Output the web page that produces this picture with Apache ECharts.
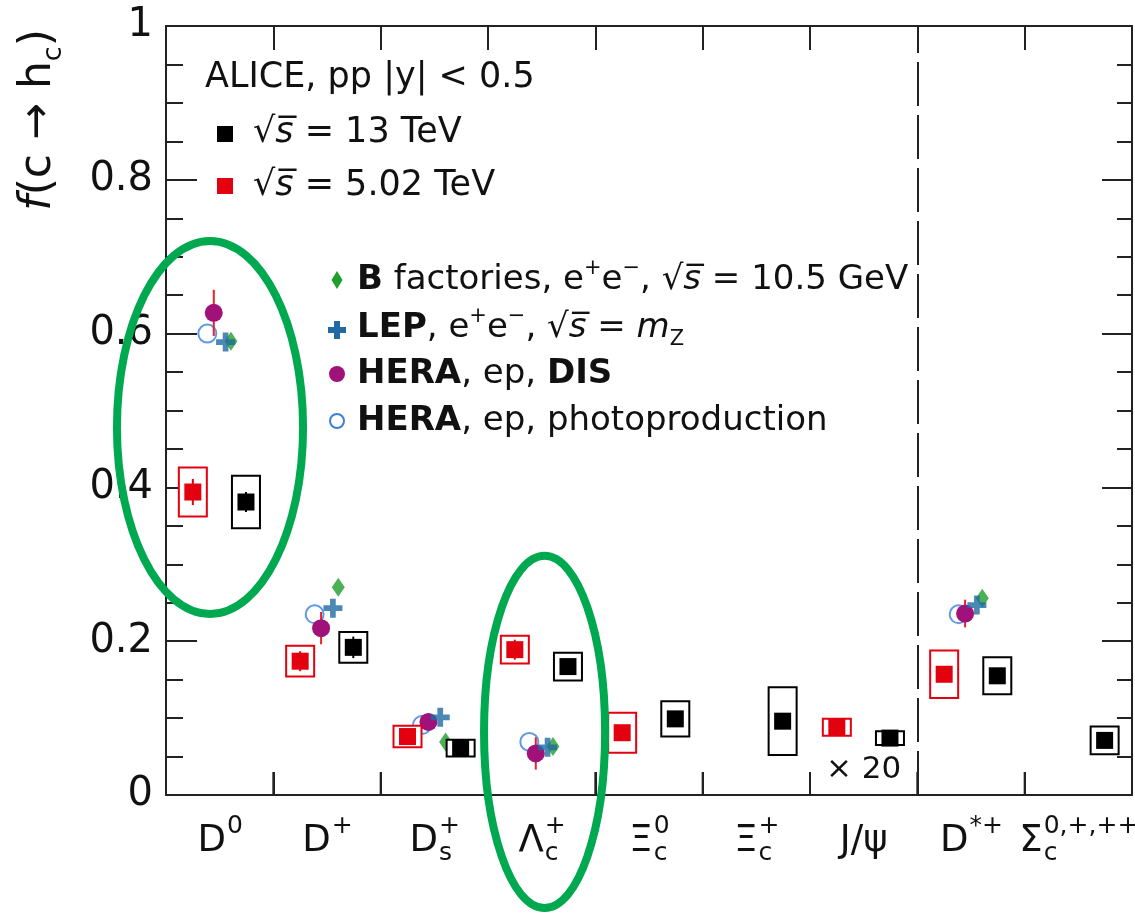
<!DOCTYPE html>
<html><head><meta charset="utf-8">
<script src="https://cdn.jsdelivr.net/npm/echarts@6/dist/echarts.min.js"></script>
<style>html,body{margin:0;padding:0;background:#fff}#c{width:1135px;height:913px}</style>
</head><body><div id="c"></div>
<script>
// ---------------- data ----------------
const categories = ['D0', 'D+', 'Ds+', 'Lambda_c+', 'Xi_c0', 'Xi_c+', 'J/psi', 'D*+', 'Sigma_c'];
// tick labels: main symbol, subscript, superscript
const tickMain = ['D', 'D', 'D', 'Λ', 'Ξ', 'Ξ', 'J/ψ', 'D', 'Σ'];
const tickSub  = ['', '', 's', 'c', 'c', 'c', '', '', 'c'];
const tickSup  = ['0', '+', '+', '+', '0', '+', '', '*+', '0,+,++'];

const pp13     = [0.381, 0.192, 0.061, 0.167, 0.099, 0.096, 0.074, 0.155, 0.071];
const pp13Stat = [0.013, 0.014, 0.004, 0.006, 0.008, 0.005, 0.003, 0.004, 0.006];
const pp13Syst = [0.034, 0.020, 0.011, 0.018, 0.023, 0.044, 0.009, 0.024, 0.018];

const pp5     = [0.394, 0.174, 0.076, 0.189, 0.081, null, 0.088, 0.157, null];
const pp5Stat = [0.017, 0.013, 0.004, 0.013, 0.007, null, 0.002, 0.004, null];
const pp5Syst = [0.032, 0.020, 0.014, 0.018, 0.026, null, 0.011, 0.031, null];

const bFactories = [0.590, 0.270, 0.069, 0.063, null, null, null, 0.256, null];
const lep        = [0.589, 0.243, 0.101, 0.062, null, null, null, 0.247, null];
const heraDis    = [0.627, 0.217, 0.095, 0.054, null, null, null, 0.236, null];
const heraDisErr = [0.030, 0.021, 0.008, 0.021, null, null, null, 0.018, null];
const heraPhoto  = [0.600, 0.235, 0.091, 0.069, null, null, null, 0.235, null];

// ---------------- layout / style ----------------
const NCAT = categories.length;
const OFF = { pp5: -0.25, pp13: 0.245, photo: -0.115, dis: -0.055, lep: 0.055, bfac: 0.105 };
const FONT = 'DejaVu Sans';
const BOX_HW = 14, SQ = 17;
const RED = '#e3000f', BLACK = '#000000';
const C_BFAC = '#1e9e2a', C_LEP = '#1f6aa3', C_DIS = '#a0117a', C_PHOTO = '#3a7fdc', C_ERR = '#e8202a';
const GREEN = '#00a850';
// annotation ovals in data units (x in category units, y in value units)
const OVALS = [
  { x: 0.41, y: 0.478, rx: 0.867, ry: 0.2425 },
  { x: 3.527, y: 0.082, rx: 0.564, ry: 0.229 }
];
const SCALE_NOTE = { x: 6.5, y: 0.033, text: '× 20' };

function aliceData(v, st, sy, off) {
  const out = [];
  v.forEach((val, i) => { if (val != null) out.push([i + 0.5 + off, val, st[i], sy[i]]); });
  return out;
}
function pointData(v, off, err) {
  const out = [];
  v.forEach((val, i) => { if (val != null) out.push(err ? [i + 0.5 + off, val, err[i]] : [i + 0.5 + off, val]); });
  return out;
}
function aliceRender(color) {
  return function (params, api) {
    const x = api.value(0), y = api.value(1), st = api.value(2), sy = api.value(3);
    const c = api.coord([x, y]);
    const sHi = api.coord([x, y + sy])[1], sLo = api.coord([x, y - sy])[1];
    const eHi = api.coord([x, y + st])[1], eLo = api.coord([x, y - st])[1];
    return { type: 'group', children: [
      { type: 'rect', shape: { x: c[0] - BOX_HW, y: sHi, width: 2 * BOX_HW, height: sLo - sHi }, style: { fill: '#fff', stroke: color, lineWidth: 2 } },
      { type: 'line', shape: { x1: c[0], y1: eHi, x2: c[0], y2: eLo }, style: { stroke: color, lineWidth: 2 } },
      { type: 'rect', shape: { x: c[0] - SQ / 2, y: c[1] - SQ / 2, width: SQ, height: SQ }, style: { fill: color } }
    ]};
  };
}
function disRender(params, api) {
  const x = api.value(0), y = api.value(1), e = api.value(2);
  const c = api.coord([x, y]);
  const hi = api.coord([x, y + e])[1], lo = api.coord([x, y - e])[1];
  return { type: 'group', children: [
    { type: 'line', shape: { x1: c[0], y1: hi, x2: c[0], y2: lo }, style: { stroke: C_ERR, lineWidth: 2 } },
    { type: 'circle', shape: { cx: c[0], cy: c[1], r: 9 }, style: { fill: C_DIS } }
  ]};
}
// inward tick marks along the bottom frame at the category boundaries
const boundaryTicks = [];
for (let b = 0; b <= NCAT; b++) boundaryTicks.push([b, 0]);
function bottomTickRender(params, api) {
  const p = api.coord([api.value(0), api.value(1)]);
  return { type: 'line', shape: { x1: p[0], y1: p[1], x2: p[0], y2: p[1] - 23 }, style: { stroke: '#222', lineWidth: 2 } };
}

const PLUS = 'path://M7,0H13V7H20V13H13V20H7V13H0V7H7Z';
const axisLineStyle = { color: '#222', width: 2 };

const option = {
  animation: false,
  backgroundColor: '#fff',
  grid: { left: 166, right: 3, top: 26, bottom: 118 },
  xAxis: [
    {
      // drawn along the bottom frame (placed at y = 0 of the value axis)
      type: 'value', position: 'top', min: 0, max: NCAT, interval: 1,
      axisLine: { show: true, onZero: true, onZeroAxisIndex: 0, lineStyle: axisLineStyle },
      axisTick: { show: true, inside: false, length: 23, lineStyle: axisLineStyle },
      splitLine: { show: false },
      axisLabel: { show: false }
    },
    {
      type: 'value', position: 'top', min: 0, max: NCAT, interval: 1,
      axisLine: { show: true, onZero: false, lineStyle: axisLineStyle },
      axisTick: { show: true, inside: true, length: 24, lineStyle: axisLineStyle },
      axisLabel: { show: false }, splitLine: { show: false }
    }
  ],
  yAxis: [
    {
      type: 'value', position: 'left', min: 0, max: 1, interval: 0.2,
      axisLine: { show: true, onZero: false, lineStyle: axisLineStyle },
      axisTick: { show: true, inside: true, length: 31, lineStyle: axisLineStyle },
      minorTick: { show: true, splitNumber: 4, length: 17, lineStyle: axisLineStyle },
      splitLine: { show: false }, minorSplitLine: { show: false },
      axisLabel: {
        margin: 13, color: '#111', fontFamily: FONT, fontSize: 40,
        formatter: v => String(+v.toFixed(1))
      }
    },
    {
      type: 'value', position: 'right', min: 0, max: 1, interval: 0.2,
      axisLine: { show: true, onZero: false, lineStyle: axisLineStyle },
      axisTick: { show: true, inside: true, length: 30, lineStyle: axisLineStyle },
      minorTick: { show: true, splitNumber: 4, length: 15, lineStyle: axisLineStyle },
      splitLine: { show: false }, minorSplitLine: { show: false },
      axisLabel: { show: false }
    }
  ],
  series: [
    {
      name: 'B factories', type: 'scatter', xAxisIndex: 0, yAxisIndex: 0,
      data: pointData(bFactories, OFF.bfac), symbol: 'diamond', symbolSize: [13, 19],
      itemStyle: { color: C_BFAC }, z: 3,
      markLine: {
        silent: true, symbol: ['none', 'none'], label: { show: false },
        lineStyle: { type: [44, 9], color: '#222', width: 2 },
        data: [{ xAxis: 7 }]
      }
    },
    {
      name: 'HERA photoproduction', type: 'scatter', xAxisIndex: 0, yAxisIndex: 0,
      data: pointData(heraPhoto, OFF.photo), symbol: 'emptyCircle', symbolSize: 18,
      itemStyle: { color: C_PHOTO, borderWidth: 2 }, z: 4
    },
    {
      name: 'HERA DIS', type: 'custom', xAxisIndex: 0, yAxisIndex: 0,
      data: pointData(heraDis, OFF.dis, heraDisErr), renderItem: disRender, z: 5
    },
    {
      name: 'LEP', type: 'scatter', xAxisIndex: 0, yAxisIndex: 0,
      data: pointData(lep, OFF.lep), symbol: PLUS, symbolSize: 19,
      itemStyle: { color: C_LEP }, z: 6
    },
    {
      name: '5.02 TeV', type: 'custom', xAxisIndex: 0, yAxisIndex: 0,
      data: aliceData(pp5, pp5Stat, pp5Syst, OFF.pp5), renderItem: aliceRender(RED), z: 7
    },
    {
      name: '13 TeV', type: 'custom', xAxisIndex: 0, yAxisIndex: 0,
      data: aliceData(pp13, pp13Stat, pp13Syst, OFF.pp13), renderItem: aliceRender(BLACK), z: 7
    },
    {
      name: 'frame ticks', type: 'custom', xAxisIndex: 0, yAxisIndex: 0, silent: true, clip: false,
      data: boundaryTicks, renderItem: bottomTickRender, z: 2
    }
  ]
};

const chart = echarts.init(document.getElementById('c'), null, { renderer: 'canvas' });
chart.setOption(option);

function toPx(x, y) { return chart.convertToPixel({ seriesIndex: 3 }, [x, y]); }

const legRich = {
  t: { fontFamily: FONT, fontSize: 34, lineHeight: 44, align: 'left', fill: '#111' },
  i: { fontFamily: FONT, fontSize: 34, lineHeight: 44, align: 'left', fontStyle: 'italic', fill: '#111' },
  b: { fontFamily: FONT, fontSize: 34, lineHeight: 44, align: 'left', fontWeight: 'bold', fill: '#111' },
  sup: { fontFamily: FONT, fontSize: 21, lineHeight: 22, verticalAlign: 'top', align: 'left', fill: '#111' },
  sub: { fontFamily: FONT, fontSize: 21, lineHeight: 20, verticalAlign: 'bottom', align: 'left', fill: '#111' }
};
function legText(x, y, text, size) {
  const rich = JSON.parse(JSON.stringify(legRich));
  if (size) { ['t', 'i', 'b'].forEach(k => rich[k].fontSize = size); }
  return { type: 'text', x: x, y: y, z: 100, style: { text: text, rich: rich, align: 'left', verticalAlign: 'middle' } };
}

const g = [];
// category labels (main symbol + stacked sub/superscripts), placed at category centres
const measureCtx = document.createElement('canvas').getContext('2d');
function textW(t, size) { measureCtx.font = size + 'px "' + FONT + '"'; return measureCtx.measureText(t).width; }
const MAIN_FS = 37, SCR_FS = 25;
categories.forEach((c, i) => {
  const p = toPx(i + 0.5, 0);
  const y0 = p[1] + 46;
  const mw = textW(tickMain[i], MAIN_FS);
  const sw = Math.max(tickSub[i] ? textW(tickSub[i], SCR_FS) : 0, tickSup[i] ? textW(tickSup[i], SCR_FS) : 0);
  const left = p[0] - (mw + sw) / 2;
  g.push({ type: 'text', x: left, y: y0, z: 100, style: { text: tickMain[i], fontFamily: FONT, fontSize: MAIN_FS, fill: '#111', align: 'left', verticalAlign: 'middle' } });
  if (tickSup[i]) g.push({ type: 'text', x: left + mw + 1, y: y0 - 15, z: 100, style: { text: tickSup[i], fontFamily: FONT, fontSize: SCR_FS, fill: '#111', align: 'left', verticalAlign: 'middle' } });
  if (tickSub[i]) g.push({ type: 'text', x: left + mw + 1, y: y0 + 12, z: 100, style: { text: tickSub[i], fontFamily: FONT, fontSize: SCR_FS, fill: '#111', align: 'left', verticalAlign: 'middle' } });
});
// title & ALICE legend
g.push(legText(205, 78, '{t|ALICE, pp |y| < 0.5}', 35));
g.push({ type: 'rect', z: 100, shape: { x: 217, y: 126, width: 16, height: 16 }, style: { fill: BLACK } });
g.push(legText(253, 133, '{t|√}{i|s\u0305}{t| = 13 TeV}', 35));
g.push({ type: 'rect', z: 100, shape: { x: 217, y: 178, width: 16, height: 16 }, style: { fill: RED } });
g.push(legText(253, 186, '{t|√}{i|s\u0305}{t| = 5.02 TeV}', 35));
// comparison legend
g.push({ type: 'polygon', z: 100, shape: { points: [[337, 271], [342.5, 280], [337, 289], [331.5, 280]] }, style: { fill: C_BFAC } });
g.push(legText(357, 280, '{b|B}{t| factories, e}{sup|+}{t|e}{sup|−}{t|, √}{i|s\u0305}{t| = 10.5 GeV}'));
g.push({ type: 'polygon', z: 100, shape: { points: [[334, 321], [340, 321], [340, 327], [346, 327], [346, 333], [340, 333], [340, 339], [334, 339], [334, 333], [328, 333], [328, 327], [334, 327]] }, style: { fill: C_LEP } });
g.push(legText(357, 328, '{b|LEP}{t|, e}{sup|+}{t|e}{sup|−}{t|, √}{i|s\u0305}{t| = }{i|m}{sub|Z}'));
g.push({ type: 'circle', z: 100, shape: { cx: 337, cy: 374, r: 8 }, style: { fill: C_DIS } });
g.push(legText(357, 374, '{b|HERA}{t|, ep, }{b|DIS}'));
g.push({ type: 'circle', z: 100, shape: { cx: 337, cy: 421, r: 7 }, style: { fill: 'none', stroke: C_PHOTO, lineWidth: 2 } });
g.push(legText(357, 421, '{b|HERA}{t|, ep, photoproduction}'));
// y axis name
g.push({
  type: 'text', x: 39, y: 120, rotation: Math.PI / 2, z: 100,
  style: {
    text: '{i|f}{t|(c → h}{sub|c}{t|)}', align: 'center', verticalAlign: 'middle',
    rich: {
      t: { fontFamily: FONT, fontSize: 44, lineHeight: 56, fill: '#111' },
      i: { fontFamily: FONT, fontSize: 44, lineHeight: 56, fontStyle: 'italic', fill: '#111' },
      sub: { fontFamily: FONT, fontSize: 27, lineHeight: 27, verticalAlign: 'bottom', fill: '#111' }
    }
  }
});
// scale note
const sp = toPx(SCALE_NOTE.x, SCALE_NOTE.y);
g.push({ type: 'text', x: sp[0], y: sp[1], z: 100, style: { text: SCALE_NOTE.text, fontFamily: FONT, fontSize: 31, fill: '#111', align: 'center', verticalAlign: 'middle' } });
// ovals
OVALS.forEach(o => {
  const c = toPx(o.x, o.y);
  const ex = toPx(o.x + o.rx, o.y);
  const ey = toPx(o.x, o.y + o.ry);
  g.push({ type: 'ellipse', z: 120, shape: { cx: c[0], cy: c[1], rx: Math.abs(ex[0] - c[0]), ry: Math.abs(c[1] - ey[1]) },
           style: { fill: 'none', stroke: GREEN, lineWidth: 8 } });
});
chart.setOption({ graphic: g });
</script>
</body></html>
